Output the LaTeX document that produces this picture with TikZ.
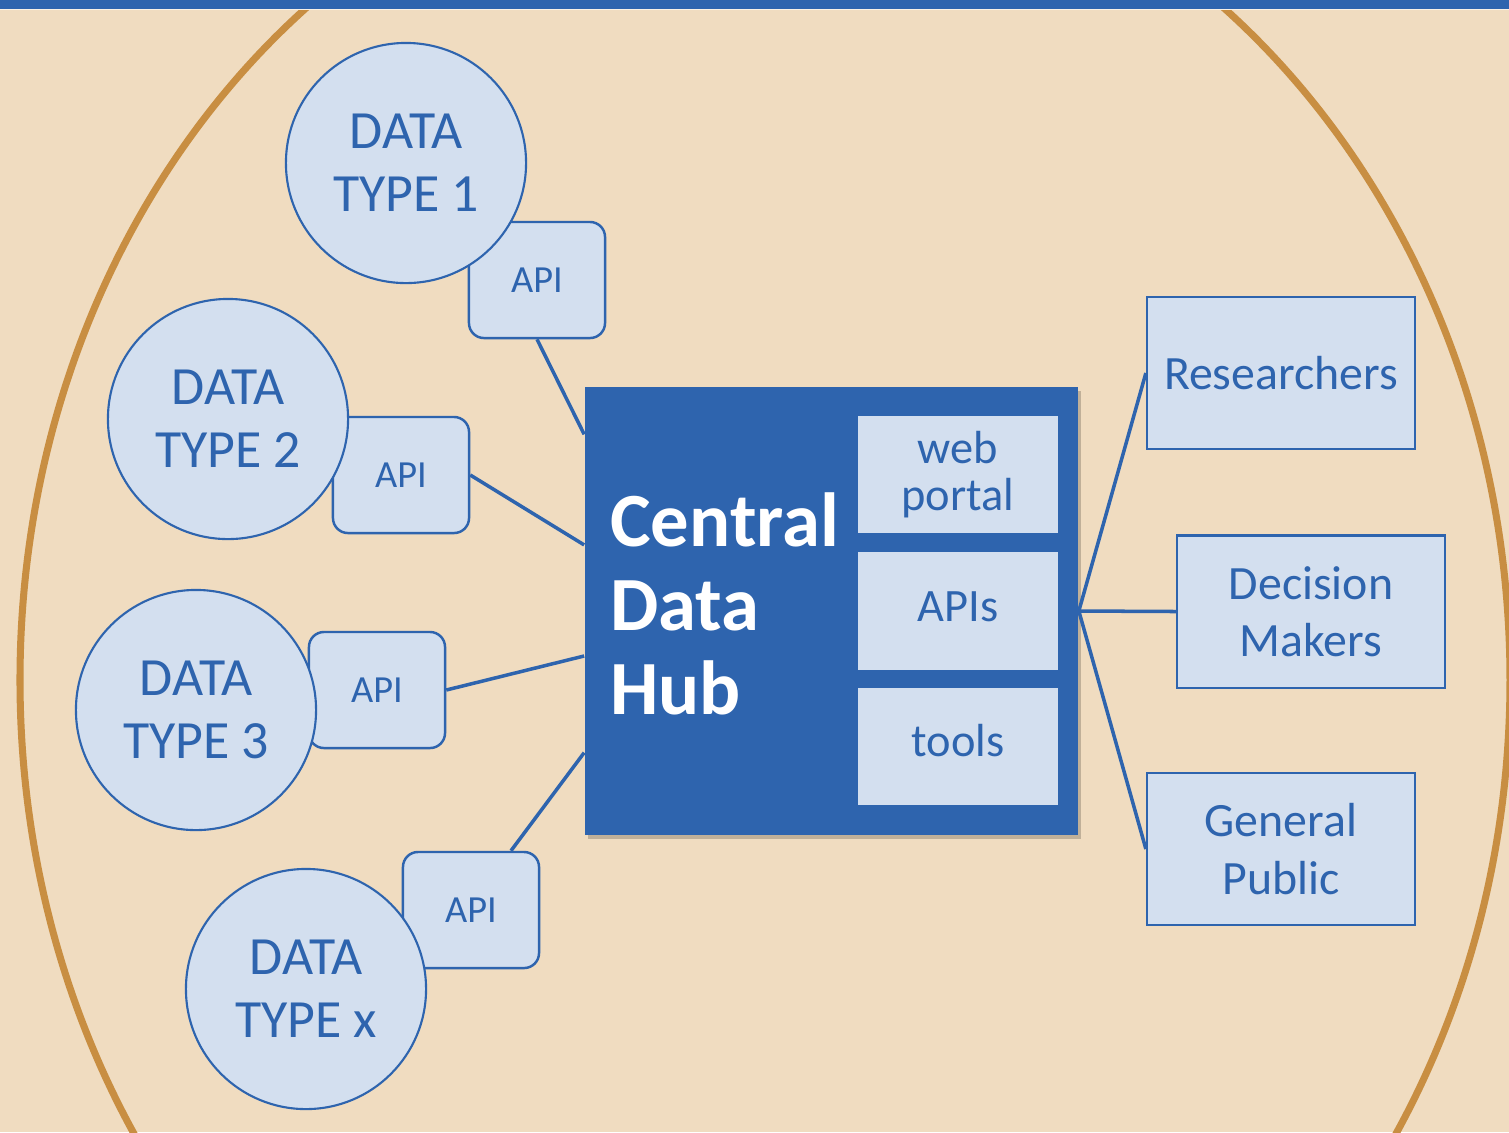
\documentclass[tikz,border=0pt]{standalone}
\usepackage{fontspec}
\setmainfont{Carlito}
\usepackage{tikz}
\usetikzlibrary{positioning,shadows,calc}
\definecolor{hubblue}{RGB}{46,100,174}
\definecolor{hublight}{RGB}{211,223,239}
\definecolor{sandbg}{RGB}{240,220,192}
\definecolor{ringbrown}{RGB}{200,142,66}
\tikzstyle{datacircle} = [circle, minimum size=2.4cm, inner sep=0pt, align=center, draw=hubblue, fill=hublight, line width=0.6pt, text=hubblue, font=\fontsize{15.3}{18}\selectfont]
\tikzstyle{apibox} = [rectangle, rounded corners=0.15cm, minimum width=1.36cm, minimum height=1.16cm, draw=hubblue, fill=hublight, line width=0.7pt, text=hubblue, font=\fontsize{10.9}{13}\selectfont]
\tikzstyle{hubpart} = [rectangle, minimum width=2cm, minimum height=1.17cm, align=center, fill=hublight, text=hubblue, font=\fontsize{13.2}{13.2}\selectfont]
\tikzstyle{userbox} = [rectangle, minimum width=2.68cm, minimum height=1.52cm, align=center, draw=hubblue, fill=hublight, line width=0.6pt, text=hubblue, font=\fontsize{13.6}{16.3}\selectfont]
\tikzstyle{link} = [line width=1pt, color=hubblue]
\begin{document}
\begin{tikzpicture}[x=0.01cm, y=-0.01cm]
% Background and frame
\fill[sandbg] (0,0) rectangle (1509,1132);
\useasboundingbox (0,0) rectangle (1509,1132);
\fill[hubblue] (0,0) rectangle (1509,8.5);
\draw[white!60!sandbg, line width=0.4pt] (0,9.5) -- (1509,9.5);
\begin{scope}
\clip (0,10) rectangle (1509,1132);
\draw[ringbrown, line width=2pt] (765,680) ellipse [x radius=745, y radius=853];
\end{scope}

% Hub
\node (hub) [rectangle, minimum width=4.93cm, minimum height=4.48cm, fill=hubblue,
  drop shadow={shadow xshift=0.03cm, shadow yshift=-0.04cm, fill=black, opacity=0.2}] at (831.5,611) {};
\node (hubtitle) [anchor=west, align=left, text=white, font=\bfseries\fontsize{21.8}{23.9}\selectfont] at (598,604) {Central\\Data\\Hub};
\node (web) [hubpart] at (958,474.5) {web\\portal};
\node (apis) [hubpart, text depth=0.08cm, below=0.18cm of web] {APIs};
\node (tools) [hubpart, text depth=0.12cm, below=0.17cm of apis] {tools};

% Data sources
\node (api1) [apibox] at (537,280) {API};
\node (api2) [apibox] at (401,475) {API};
\node (api3) [apibox] at (377,690) {API};
\node (apix) [apibox] at (471,910) {API};
\node (dt1) [datacircle] at (406,163) {DATA\\TYPE 1};
\node (dt2) [datacircle] at (228,419) {DATA\\TYPE 2};
\node (dt3) [datacircle] at (196,710) {DATA\\TYPE 3};
\node (dtx) [datacircle] at (306,989) {DATA\\TYPE x};

% Users
\node (res) [userbox] at (1281,373) {Researchers};
\node (dec) [userbox] at (1311,611.5) {Decision\\Makers};
\node (pub) [userbox] at (1281,849) {General\\Public};

% Links
\draw[link] (api1.south) -- ($(hub.north west)!0.107!(hub.south west)$);
\draw[link] (api2.east) -- ($(hub.north west)!0.353!(hub.south west)$);
\draw[link] (api3.east) -- ($(hub.north west)!0.600!(hub.south west)$);
\draw[link] ($(apix.north)+(40,0)$) -- ($(hub.north west)!0.815!(hub.south west)$);
\draw[link] (hub.east) -- (res.west);
\draw[link] (hub.east) -- (dec.west);
\draw[link] (hub.east) -- (pub.west);
\end{tikzpicture}
\end{document}
